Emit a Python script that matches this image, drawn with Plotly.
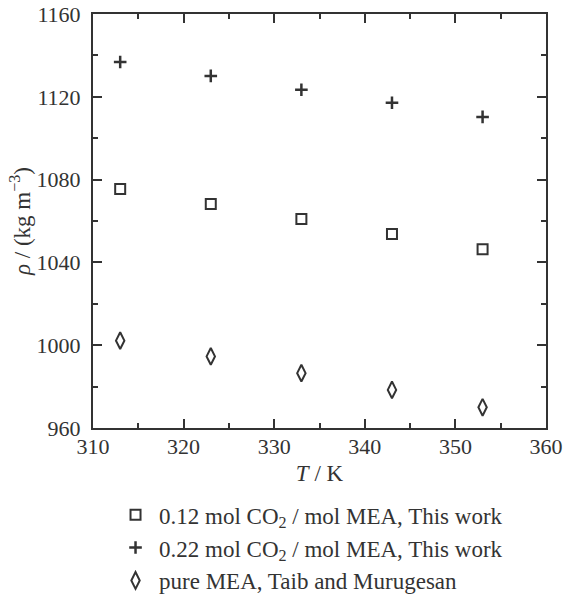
import plotly.graph_objects as go

T = [313, 323, 333, 343, 353]
rho_012 = [1075.5, 1068.2, 1061.0, 1053.7, 1046.3]
rho_022 = [1136.8, 1130.1, 1123.4, 1117.1, 1110.3]
rho_mea = [1002.2, 994.6, 986.5, 978.4, 970.0]

names = [
    "0.12 mol CO<sub>2</sub> / mol MEA, This work",
    "0.22 mol CO<sub>2</sub> / mol MEA, This work",
    "pure MEA, Taib and Murugesan",
]

col = "#333333"
fam = "Liberation Serif, Times New Roman, serif"
fig = go.Figure()
fig.add_trace(go.Scatter(x=T, y=rho_012, mode="markers", name=names[0],
                         marker=dict(symbol="square-open", size=10, color=col, line=dict(width=2, color=col))))
fig.add_trace(go.Scatter(x=T, y=rho_022, mode="markers", name=names[1],
                         marker=dict(symbol="cross-thin-open", size=9, color=col, line=dict(width=2.5, color=col))))
fig.add_trace(go.Scatter(x=T, y=rho_mea, mode="markers", name=names[2],
                         marker=dict(symbol="diamond-tall-open", size=12, color=col, line=dict(width=2, color=col))))

tickfont = dict(family=fam, size=22, color=col)
titlefont = dict(family=fam, size=23, color=col)
axis_common = dict(showline=True, linecolor=col, linewidth=2, mirror="ticks",
                   ticks="inside", ticklen=9, tickwidth=2, tickcolor=col,
                   showgrid=False, zeroline=False, tickfont=tickfont, automargin=False)

fig.update_xaxes(range=[310, 360], dtick=10, tick0=310, ticklabelstandoff=-2,
                 minor=dict(dtick=5, ticks="inside", ticklen=5, tickwidth=2, tickcolor=col),
                 title=dict(text="<i>T</i> / K", font=titlefont, standoff=6), **axis_common)
fig.update_yaxes(range=[960, 1160], dtick=40, tick0=960, ticklabelstandoff=6,
                 minor=dict(dtick=20, ticks="inside", ticklen=5, tickwidth=2, tickcolor=col),
                 title=dict(text="<i>ρ</i> / (kg m<sup>−3</sup>)", font=titlefont, standoff=0), **axis_common)

fig.update_layout(
    width=570, height=600,
    margin=dict(l=93, r=24, t=14, b=172),
    plot_bgcolor="white", paper_bgcolor="white",
    font=dict(family=fam, size=22, color=col),
    showlegend=True,
    legend=dict(orientation="v", x=0.042, xanchor="left",
                yref="container", y=0.178, yanchor="top",
                font=dict(family=fam, size=23, color=col),
                bgcolor="rgba(0,0,0,0)", itemwidth=37),
)

fig.write_html("out.html", config={"displayModeBar": False},
               post_script="document.body.style.margin='0';")
